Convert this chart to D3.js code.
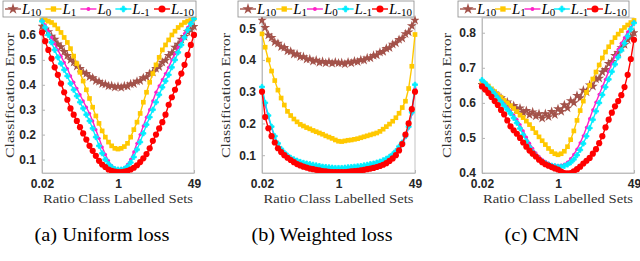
<!DOCTYPE html>
<html>
<head>
<meta charset="utf-8">
<script src="https://cdn.jsdelivr.net/npm/d3@7"></script>
<style>
  body { margin: 0; background: #fff; }
  svg { display: block; }
</style>
</head>
<body>
<svg width="640" height="261"></svg>
<script>
// ratio between the two class labelled sets (x axis, log scale)
const ratios = [0.02, 0.02353, 0.02769, 0.03257, 0.03832, 0.04509, 0.05305, 0.06241, 0.07343, 0.0864,
  0.1017, 0.1196, 0.1407, 0.1656, 0.1948, 0.2292, 0.2697, 0.3173, 0.3733, 0.4392,
  0.5168, 0.608, 0.7153, 0.8416, 0.9902, 1.165, 1.371, 1.613, 1.897, 2.232,
  2.626, 3.09, 3.636, 4.278, 5.033, 5.921, 6.967, 8.197, 9.644, 11.35,
  13.35, 15.71, 18.48, 21.74, 25.58, 30.1, 35.41, 41.66, 49];

const seriesNames = ["10", "1", "0", "-1", "-10"];
const xTicks = [0.02, 1, 49];

// (a) uniform loss
const uniformL10 = [0.635,0.622,0.612,0.594,0.582,0.563,0.552,0.533,0.517,0.5,0.49,0.474,0.465,0.45,0.445,0.432,0.428,0.416,0.413,0.404,0.402,0.395,0.396,0.39,0.393,0.389,0.395,0.394,0.403,0.404,0.414,0.416,0.428,0.431,0.445,0.45,0.465,0.472,0.49,0.498,0.517,0.528,0.55,0.562,0.582,0.593,0.612,0.62,0.634];
const uniformL1 = [0.66,0.66,0.655,0.65,0.64,0.625,0.61,0.59,0.57,0.545,0.515,0.485,0.45,0.415,0.38,0.345,0.31,0.275,0.245,0.215,0.19,0.17,0.155,0.145,0.142,0.145,0.152,0.165,0.19,0.22,0.25,0.285,0.33,0.37,0.41,0.445,0.48,0.51,0.54,0.56,0.58,0.6,0.615,0.63,0.64,0.65,0.655,0.66,0.665];
const uniformL0 = [0.66,0.64,0.615,0.59,0.565,0.54,0.515,0.49,0.465,0.435,0.41,0.385,0.36,0.335,0.31,0.285,0.255,0.22,0.185,0.15,0.12,0.095,0.075,0.063,0.058,0.06,0.066,0.08,0.1,0.13,0.165,0.2,0.235,0.27,0.3,0.335,0.37,0.395,0.42,0.445,0.47,0.5,0.525,0.55,0.58,0.605,0.63,0.65,0.665];
const uniformLm1 = [0.655,0.63,0.6,0.57,0.54,0.51,0.485,0.46,0.435,0.405,0.38,0.355,0.33,0.305,0.28,0.255,0.225,0.19,0.155,0.125,0.1,0.082,0.07,0.062,0.06,0.06,0.063,0.072,0.088,0.11,0.14,0.17,0.205,0.24,0.27,0.3,0.33,0.36,0.39,0.415,0.44,0.47,0.5,0.53,0.56,0.59,0.62,0.645,0.665];
const uniformLm10 = [0.61,0.575,0.54,0.505,0.47,0.44,0.405,0.37,0.34,0.305,0.28,0.255,0.23,0.205,0.18,0.155,0.135,0.115,0.095,0.08,0.07,0.06,0.055,0.052,0.05,0.05,0.052,0.055,0.06,0.067,0.077,0.09,0.105,0.122,0.145,0.175,0.2,0.225,0.25,0.28,0.32,0.35,0.38,0.41,0.445,0.48,0.52,0.56,0.6];

// (b) weighted loss
const weightedL10 = [0.525,0.502,0.478,0.47,0.456,0.452,0.441,0.439,0.428,0.427,0.418,0.418,0.41,0.41,0.402,0.403,0.396,0.399,0.392,0.395,0.39,0.394,0.389,0.393,0.39,0.391,0.387,0.393,0.39,0.396,0.394,0.4,0.399,0.406,0.406,0.414,0.415,0.424,0.426,0.436,0.438,0.449,0.453,0.464,0.468,0.482,0.488,0.507,0.525];
const weightedL1 = [0.482,0.44,0.4,0.365,0.335,0.305,0.28,0.258,0.238,0.225,0.214,0.205,0.197,0.192,0.187,0.183,0.178,0.174,0.17,0.166,0.161,0.157,0.153,0.148,0.144,0.143,0.145,0.147,0.148,0.15,0.152,0.155,0.158,0.161,0.164,0.167,0.17,0.175,0.182,0.19,0.198,0.207,0.218,0.232,0.25,0.27,0.31,0.38,0.48];
const weightedL0 = [0.305,0.258,0.22,0.186,0.156,0.134,0.117,0.105,0.096,0.089,0.084,0.08,0.076,0.073,0.071,0.069,0.067,0.065,0.063,0.061,0.06,0.059,0.058,0.057,0.057,0.057,0.058,0.059,0.06,0.061,0.062,0.063,0.065,0.067,0.069,0.071,0.074,0.077,0.081,0.086,0.092,0.1,0.11,0.123,0.136,0.156,0.186,0.23,0.31];
const weightedLm1 = [0.315,0.265,0.225,0.19,0.16,0.137,0.12,0.108,0.099,0.092,0.087,0.083,0.079,0.076,0.074,0.072,0.07,0.068,0.066,0.064,0.063,0.062,0.061,0.06,0.06,0.06,0.061,0.062,0.063,0.064,0.065,0.066,0.068,0.07,0.072,0.074,0.077,0.08,0.084,0.089,0.095,0.103,0.113,0.127,0.14,0.16,0.19,0.235,0.322];
const weightedLm10 = [0.3,0.22,0.185,0.16,0.14,0.122,0.11,0.1,0.092,0.085,0.078,0.072,0.068,0.064,0.061,0.058,0.056,0.054,0.052,0.05,0.049,0.048,0.047,0.047,0.047,0.047,0.047,0.048,0.049,0.05,0.051,0.052,0.054,0.056,0.058,0.06,0.063,0.066,0.07,0.075,0.082,0.09,0.1,0.115,0.135,0.165,0.2,0.245,0.3];

// (c) CMN
const cmnL10 = [0.652,0.645,0.641,0.632,0.628,0.618,0.614,0.603,0.602,0.591,0.592,0.581,0.585,0.572,0.578,0.566,0.574,0.562,0.569,0.556,0.569,0.56,0.575,0.566,0.583,0.575,0.594,0.585,0.606,0.6,0.621,0.614,0.636,0.631,0.651,0.647,0.668,0.67,0.688,0.695,0.712,0.718,0.735,0.743,0.757,0.766,0.78,0.789,0.8];
const cmnL1 = [0.66,0.655,0.648,0.64,0.632,0.624,0.616,0.607,0.6,0.592,0.584,0.575,0.565,0.558,0.548,0.538,0.527,0.515,0.503,0.492,0.481,0.47,0.461,0.455,0.452,0.455,0.462,0.475,0.495,0.52,0.55,0.578,0.605,0.63,0.65,0.668,0.688,0.708,0.728,0.745,0.76,0.773,0.786,0.796,0.806,0.815,0.822,0.829,0.835];
const cmnL0 = [0.662,0.655,0.647,0.638,0.628,0.618,0.607,0.597,0.587,0.577,0.565,0.553,0.538,0.52,0.502,0.485,0.47,0.457,0.447,0.439,0.433,0.428,0.424,0.422,0.421,0.422,0.425,0.431,0.441,0.453,0.468,0.486,0.506,0.53,0.555,0.58,0.602,0.624,0.646,0.667,0.69,0.712,0.733,0.752,0.77,0.786,0.802,0.816,0.83];
const cmnLm1 = [0.665,0.656,0.646,0.636,0.625,0.614,0.603,0.592,0.581,0.57,0.557,0.543,0.527,0.509,0.491,0.474,0.46,0.449,0.44,0.433,0.428,0.424,0.421,0.419,0.418,0.418,0.42,0.424,0.43,0.439,0.451,0.466,0.484,0.505,0.528,0.552,0.576,0.6,0.623,0.645,0.667,0.689,0.71,0.73,0.75,0.77,0.79,0.81,0.828];
const cmnLm10 = [0.647,0.638,0.628,0.617,0.605,0.594,0.58,0.567,0.55,0.533,0.522,0.512,0.5,0.487,0.475,0.464,0.455,0.447,0.438,0.431,0.425,0.421,0.417,0.413,0.41,0.404,0.4,0.399,0.4,0.405,0.411,0.418,0.427,0.435,0.443,0.455,0.468,0.485,0.505,0.53,0.552,0.572,0.59,0.605,0.622,0.645,0.68,0.725,0.78];

const uniformTicks = [0.1, 0.2, 0.3, 0.4, 0.5, 0.6];
const weightedTicks = [0.1, 0.2, 0.3, 0.4, 0.5];
const cmnTicks = [0.4, 0.5, 0.6, 0.7, 0.8];

let svg = d3.select("svg");
const plotTop = 18, plotBottom = 173;
const serifFont = '"Liberation Serif"';
const sansFont = '"Liberation Sans"';

const colors = ["#a3524a", "#ffc800", "#ff20c8", "#00eeff", "#ff0000"];
const symbols = [d3.symbolStar, d3.symbolSquare, d3.symbolCircle, d3.symbolCross, d3.symbolCircle];
const symSizes = [30, 22, 9, 14, 30];

let panels = [
  { series: [uniformL10, uniformL1, uniformL0, uniformLm1, uniformLm10], left: 42, right: 194,
    yDomain: [0.046, 0.668], yTicks: uniformTicks, legend: [3, 196],
    caption: "(a) Uniform loss", capX: 102, capW: 135, ylabX: 14 },
  { series: [weightedL10, weightedL1, weightedL0, weightedLm1, weightedLm10], left: 262, right: 415,
    yDomain: [0.044, 0.532], yTicks: weightedTicks, legend: [238, 414],
    caption: "(b) Weighted loss", capX: 322, capW: 141, ylabX: 230 },
  { series: [cmnL10, cmnL1, cmnL0, cmnLm1, cmnLm10], left: 482, right: 634,
    yDomain: [0.4, 0.842], yTicks: cmnTicks, legend: [458, 629],
    caption: "(c) CMN", capX: 542, capW: 75, ylabX: 451 }
];

let drawMarker = (sel, k, scale) => sel.append("path")
  .attr("d", d3.symbol(symbols[k], symSizes[k] * (scale || 1))())
  .attr("fill", colors[k])
  .attr("stroke", k === 3 ? colors[k] : "none")
  .attr("stroke-width", 0.8);

panels.forEach((p, pi) => {
  let x = d3.scaleLog().domain([0.02, 49]).range([p.left, p.right]);
  let y = d3.scaleLinear().domain(p.yDomain).range([plotBottom, plotTop]);

  let clipId = "clip" + pi;
  svg.append("clipPath").attr("id", clipId)
    .append("rect")
    .attr("x", p.left - 4).attr("y", plotTop - 4)
    .attr("width", p.right - p.left + 8).attr("height", plotBottom - plotTop + 4);

  // box
  svg.append("rect")
    .attr("x", p.left).attr("y", plotTop)
    .attr("width", p.right - p.left).attr("height", plotBottom - plotTop)
    .attr("fill", "none").attr("stroke", "#b5b5b5").attr("stroke-width", 0.8);

  let yAxis = svg.append("g")
    .attr("transform", `translate(${p.left},0)`)
    .call(d3.axisLeft(y).tickValues(p.yTicks).tickFormat(d3.format(".1f"))
      .tickSize(-3).tickSizeOuter(0).tickPadding(6));
  let xAxis = svg.append("g")
    .attr("transform", `translate(0,${plotBottom})`)
    .call(d3.axisBottom(x).tickValues(xTicks).tickFormat(d => String(d))
      .tickSize(-3).tickSizeOuter(0).tickPadding(6.5));
  [yAxis, xAxis].forEach(a => {
    a.select(".domain").attr("stroke", "#b5b5b5").attr("stroke-width", 0.8);
    a.selectAll(".tick line").attr("stroke", "#b5b5b5");
    a.selectAll(".tick text")
      .attr("fill", "#262626")
      .style("font-family", sansFont).style("font-weight", "bold").style("font-size", "12px");
  });

  let plot = svg.append("g").attr("clip-path", `url(#${clipId})`);
  let line = d3.line().x((d, i) => x(ratios[i])).y(d => y(d));
  p.series.forEach((vals, k) => {
    plot.append("path")
      .attr("d", line(vals))
      .attr("fill", "none")
      .attr("stroke", colors[k])
      .attr("stroke-width", 1.4);
    plot.append("g").selectAll("g")
      .data(vals)
      .enter().append("g")
      .attr("transform", (d, i) => `translate(${x(ratios[i])},${y(d)})`)
      .each(function () { drawMarker(d3.select(this), k); });
  });

  // axis labels
  svg.append("text")
    .attr("transform", `translate(${p.ylabX},${(plotTop + plotBottom) / 2}) rotate(-90)`)
    .attr("text-anchor", "middle")
    .attr("textLength", 125).attr("lengthAdjust", "spacingAndGlyphs")
    .style("font-family", serifFont).style("font-size", "13.5px")
    .attr("fill", "#333")
    .text("Classification Error");
  svg.append("text")
    .attr("x", (p.left + p.right) / 2).attr("y", 203)
    .attr("text-anchor", "middle")
    .attr("textLength", 150).attr("lengthAdjust", "spacingAndGlyphs")
    .style("font-family", serifFont).style("font-size", "13.5px")
    .attr("fill", "#333")
    .text("Ratio Class Labelled Sets");
  svg.append("text")
    .attr("x", p.capX).attr("y", 241)
    .attr("text-anchor", "middle")
    .attr("textLength", p.capW).attr("lengthAdjust", "spacingAndGlyphs")
    .style("font-family", serifFont).style("font-size", "19px")
    .attr("fill", "#000")
    .text(p.caption);

  // legend
  let lg = svg.append("g");
  let lw = p.legend[1] - p.legend[0];
  lg.append("rect")
    .attr("x", p.legend[0]).attr("y", 1)
    .attr("width", lw).attr("height", 16)
    .attr("fill", "#fff").attr("stroke", "#8a8a8a").attr("stroke-width", 0.8);
  let entries = seriesNames.map((name, k) => {
    let g = lg.append("g");
    g.append("line").attr("x1", 0).attr("x2", 16).attr("y1", 9).attr("y2", 9)
      .attr("stroke", colors[k]).attr("stroke-width", 1.4);
    drawMarker(g.append("g").attr("transform", "translate(8,9)"), k, 1.3);
    let t = g.append("text").attr("x", 17).attr("y", 13.5).attr("fill", "#000")
      .style("font-family", serifFont);
    t.append("tspan").text("L").style("font-style", "italic").style("font-size", "15px");
    t.append("tspan").text(name).attr("dy", 2.5).style("font-size", "11px");
    return { g: g, w: 17 + t.node().getComputedTextLength() };
  });
  let total = d3.sum(entries, e => e.w);
  let gap = (lw - 4 - total) / (entries.length - 1);
  let cx = p.legend[0] + 2;
  entries.forEach(e => {
    e.g.attr("transform", `translate(${cx},0)`);
    cx += e.w + gap;
  });
});
</script>
</body>
</html>
